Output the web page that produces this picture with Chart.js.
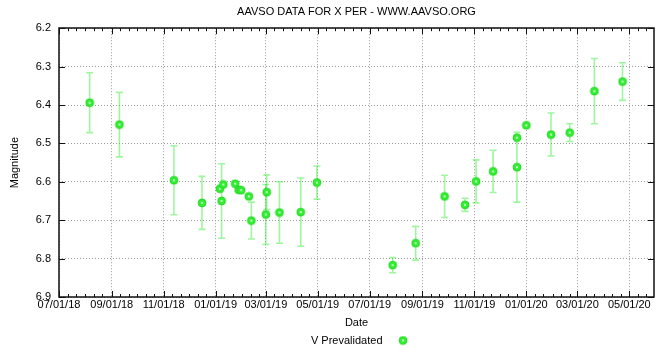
<!DOCTYPE html>
<html>
<head>
<meta charset="utf-8">
<title>AAVSO data for X Per</title>
<script src="https://cdn.jsdelivr.net/npm/chart.js@4/dist/chart.umd.min.js"></script>
<style>
  html, body { margin: 0; padding: 0; background: #fff; }
  #wrap { width: 666px; height: 354px; }
</style>
</head>
<body>
<div id="wrap"><canvas id="lightCurve" width="666" height="354"></canvas></div>
<script>
const obsDates = [
  "2018-08-06", "2018-09-10", "2018-11-13", "2018-12-16", "2019-01-06", "2019-01-08",
  "2019-01-10", "2019-01-24", "2019-01-28", "2019-01-31", "2019-02-09", "2019-02-12",
  "2019-03-01", "2019-03-02", "2019-03-17", "2019-04-11", "2019-04-30", "2019-07-28",
  "2019-08-24", "2019-09-27", "2019-10-21", "2019-11-03", "2019-11-23", "2019-12-21",
  "2019-12-21", "2020-01-01", "2020-01-30", "2020-02-21", "2020-03-21", "2020-04-23"
];
const magnitudes = [
  6.394, 6.451, 6.596, 6.655, 6.618, 6.650,
  6.607, 6.605, 6.621, 6.622, 6.638, 6.701,
  6.685, 6.627, 6.680, 6.679, 6.602, 6.817,
  6.760, 6.638, 6.660, 6.599, 6.573, 6.562,
  6.485, 6.453, 6.477, 6.472, 6.364, 6.339
];
const errors = [
  0.078, 0.084, 0.090, 0.069, 0, 0.097,
  0, 0, 0, 0, 0, 0.048,
  0.078, 0.045, 0.080, 0.089, 0.043, 0.020,
  0.044, 0.055, 0.017, 0.056, 0.055, 0.091,
  0, 0, 0.056, 0.023, 0.085, 0.049
];

const tickDates = [
  "2018-07-01", "2018-09-01", "2018-11-01", "2019-01-01", "2019-03-01", "2019-05-01",
  "2019-07-01", "2019-09-01", "2019-11-01", "2020-01-01", "2020-03-01", "2020-05-01"
];
const tickLabels = [
  "07/01/18", "09/01/18", "11/01/18", "01/01/19", "03/01/19", "05/01/19",
  "07/01/19", "09/01/19", "11/01/19", "01/01/20", "03/01/20", "05/01/20"
];

const toMs = (s) => Date.parse(s + "T00:00:00Z");
const xMin = toMs("2018-07-01");
const xMax = toMs("2020-05-30");

// small ticks on the top/bottom frame, roughly every ten days
const minorTicks = [];
for (let y = 2018; y <= 2020; y++) {
  for (let m = 0; m < 12; m++) {
    [1, 11, 21].forEach(d => {
      if (d === 1 && m % 2 === 0) return; // major tick already
      const t = Date.UTC(y, m, d);
      if (t > xMin && t < xMax) minorTicks.push(t);
    });
  }
}

const makeMarker = () => {
  const c = document.createElement("canvas");
  c.width = c.height = 10;
  const g = c.getContext("2d");
  g.beginPath();
  g.arc(5, 5, 3.9, 0, Math.PI * 2);
  g.fillStyle = "#33f033";
  g.fill();
  g.lineWidth = 1;
  g.strokeStyle = "#22d522";
  g.stroke();
  g.beginPath();
  g.arc(5, 5, 1.1, 0, Math.PI * 2);
  g.fillStyle = "#d8ffd8";
  g.fill();
  return c;
};
const marker = makeMarker();

const errorBars = {
  id: "errorBars",
  beforeDatasetsDraw(chart) {
    const { ctx } = chart;
    const y = chart.scales.y;
    const meta = chart.getDatasetMeta(0);
    ctx.save();
    ctx.strokeStyle = "rgba(40,235,40,0.45)";
    ctx.lineWidth = 1.6;
    meta.data.forEach((pt, i) => {
      const e = errors[i];
      if (!e) return;
      const top = y.getPixelForValue(magnitudes[i] - e);
      const bot = y.getPixelForValue(magnitudes[i] + e);
      ctx.beginPath();
      ctx.moveTo(pt.x, top);
      ctx.lineTo(pt.x, bot);
      ctx.moveTo(pt.x - 3.5, top);
      ctx.lineTo(pt.x + 3.5, top);
      ctx.moveTo(pt.x - 3.5, bot);
      ctx.lineTo(pt.x + 3.5, bot);
      ctx.stroke();
    });
    ctx.restore();
  }
};

const frame = {
  id: "frame",
  afterLayout(chart) {
    // the key sits a little right of the plot centre
    chart.legend.left += 8;
    chart.legend.right += 8;
  },
  afterDraw(chart) {
    const { ctx, chartArea: a, scales: { x, y } } = chart;
    ctx.save();
    ctx.strokeStyle = "#111";
    ctx.lineWidth = 1;
    ctx.beginPath();
    x.ticks.forEach(t => {
      const px = Math.round(x.getPixelForValue(t.value)) + 0.5;
      ctx.moveTo(px, a.bottom); ctx.lineTo(px, a.bottom - 6);
      ctx.moveTo(px, a.top); ctx.lineTo(px, a.top + 6);
    });
    minorTicks.forEach(v => {
      const px = Math.round(x.getPixelForValue(v)) + 0.5;
      ctx.moveTo(px, a.bottom); ctx.lineTo(px, a.bottom - 3);
      ctx.moveTo(px, a.top); ctx.lineTo(px, a.top + 3);
    });
    y.ticks.forEach(t => {
      const py = Math.round(y.getPixelForValue(t.value)) + 0.5;
      ctx.moveTo(a.left, py); ctx.lineTo(a.left + 6, py);
      ctx.moveTo(a.right, py); ctx.lineTo(a.right - 6, py);
    });
    ctx.stroke();
    ctx.lineWidth = 1.5;
    ctx.strokeRect(Math.round(a.left), Math.round(a.top), Math.round(a.right - a.left), Math.round(a.bottom - a.top));
    ctx.restore();
  }
};

Chart.defaults.font.family = '"Liberation Sans", Arial, Helvetica, sans-serif';
Chart.defaults.font.size = 11;
Chart.defaults.color = "#000";

new Chart(document.getElementById("lightCurve"), {
  type: "scatter",
  data: {
    datasets: [{
      label: "V Prevalidated",
      data: obsDates.map((d, i) => ({ x: toMs(d), y: magnitudes[i] })),
      pointStyle: marker,
      pointRadius: 4,
      backgroundColor: "#33f033",
      borderColor: "#22d522"
    }]
  },
  options: {
    responsive: false,
    animation: false,
    layout: { padding: { left: 0, right: 12, top: 0, bottom: -2 } },
    plugins: {
      title: {
        display: true,
        fullSize: false,
        text: "AAVSO DATA FOR X PER - WWW.AAVSO.ORG",
        color: "#000",
        font: { size: 11, weight: "normal" },
        padding: { top: 5, bottom: 10 }
      },
      legend: {
        position: "bottom",
        fullSize: false,
        rtl: true,
        labels: {
          usePointStyle: true,
          pointStyleWidth: 30,
          padding: 6,
          color: "#000",
          font: { size: 11 }
        }
      },
      tooltip: { enabled: false }
    },
    scales: {
      x: {
        type: "linear",
        min: xMin,
        max: xMax,
        afterBuildTicks: (scale) => {
          scale.ticks = tickDates.map(d => ({ value: toMs(d) }));
        },
        afterFit: (scale) => { scale.height = 32; },
        ticks: {
          autoSkip: false,
          maxRotation: 0,
          padding: 1,
          color: "#000",
          callback: (value, index) => tickLabels[index]
        },
        grid: { color: "#9a9a9a", drawTicks: false },
        border: { display: false, dash: [1, 2] },
        title: { display: true, text: "Date", color: "#000", padding: { top: 0, bottom: -1 } }
      },
      y: {
        reverse: true,
        min: 6.2,
        max: 6.9,
        afterFit: (scale) => { scale.width = 59; },
        ticks: {
          stepSize: 0.1,
          padding: 8,
          color: "#000",
          callback: (value) => value.toFixed(1)
        },
        grid: { color: "#9a9a9a", drawTicks: false },
        border: { display: false, dash: [1, 2] },
        title: { display: true, text: "Magnitude", color: "#000", padding: { top: 8, bottom: 0 } }
      }
    }
  },
  plugins: [errorBars, frame]
});
</script>
</body>
</html>
